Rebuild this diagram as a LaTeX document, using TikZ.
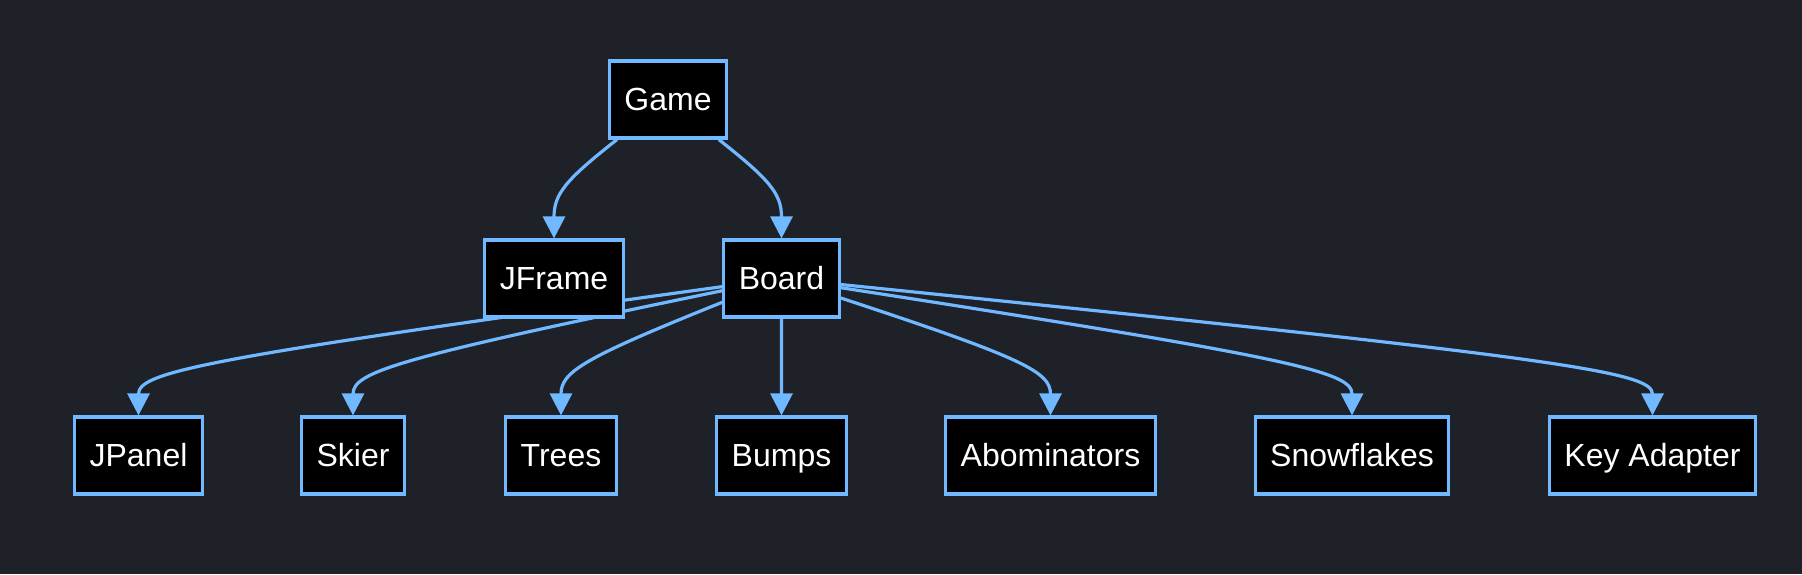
\documentclass[tikz,border=0pt]{standalone}
\usepackage{fontspec}
\setmainfont{Liberation Sans}
\usetikzlibrary{arrows.meta,calc}

\definecolor{bgnavy}{RGB}{31,33,41}
\definecolor{linkblue}{RGB}{112,184,255}

\pgfdeclarelayer{bg}
\pgfdeclarelayer{links}
\pgfsetlayers{bg,links,main}

\tikzset{
    cls/.style={draw=linkblue, fill=black, text=white, line width=1.6pt,
        inner xsep=7.5pt, minimum height=38.5pt, text height=11.5pt, text depth=1pt,
        font=\fontsize{16}{19}\selectfont},
    link/.style={draw=linkblue, line width=1.6pt, -{Triangle[length=11pt,width=11pt]}},
    drop/.style={to path={let \p1=($(\tikztostart.south)!.5!(\tikztotarget.north)$),
        \p2=(\tikztotarget.north) in
        .. controls ($(\tikztostart)!.9!(\x2,\y1)$) and ($(\tikztotarget.north)!.9!(\x2,\y1)$)
        .. (\tikztotarget.north) \tikztonodes}}
}

\begin{document}
\begin{tikzpicture}[x=0.5pt,y=-0.5pt]
        \begin{pgfonlayer}{bg}
            \fill[bgnavy] (0,0) rectangle (1802,574); %Canvas
        \end{pgfonlayer}
        \useasboundingbox (0,0) rectangle (1802,574);

        \node[cls] (game) at (668,99.5) {Game}; %Top
        \node[cls] (jframe) at (554,278.5) {JFrame};
        \node[cls] (board) at (781.5,278.5) {Board};
        \node[cls] (jpanel) at (138.5,455.5) {JPanel}; %Bottom row
        \node[cls] (skier) at (353,455.5) {Skier};
        \node[cls] (trees) at (561,455.5) {Trees};
        \node[cls] (bumps) at (781.5,455.5) {Bumps};
        \node[cls] (abom) at (1050.5,455.5) {Abominators};
        \node[cls] (snow) at (1352,455.5) {Snowflakes};
        \node[cls] (keyad) at (1652.5,455.5) {Key Adapter};

        \begin{pgfonlayer}{links}
            \foreach \to in {jframe,board}
                \draw[link] (game) to[drop] (\to);
            \foreach \to in {jpanel,skier,trees,bumps,abom,snow,keyad} %jpanel, skier run under JFrame
                \draw[link] (board) to[drop] (\to);
        \end{pgfonlayer}
    \end{tikzpicture}
\end{document}
